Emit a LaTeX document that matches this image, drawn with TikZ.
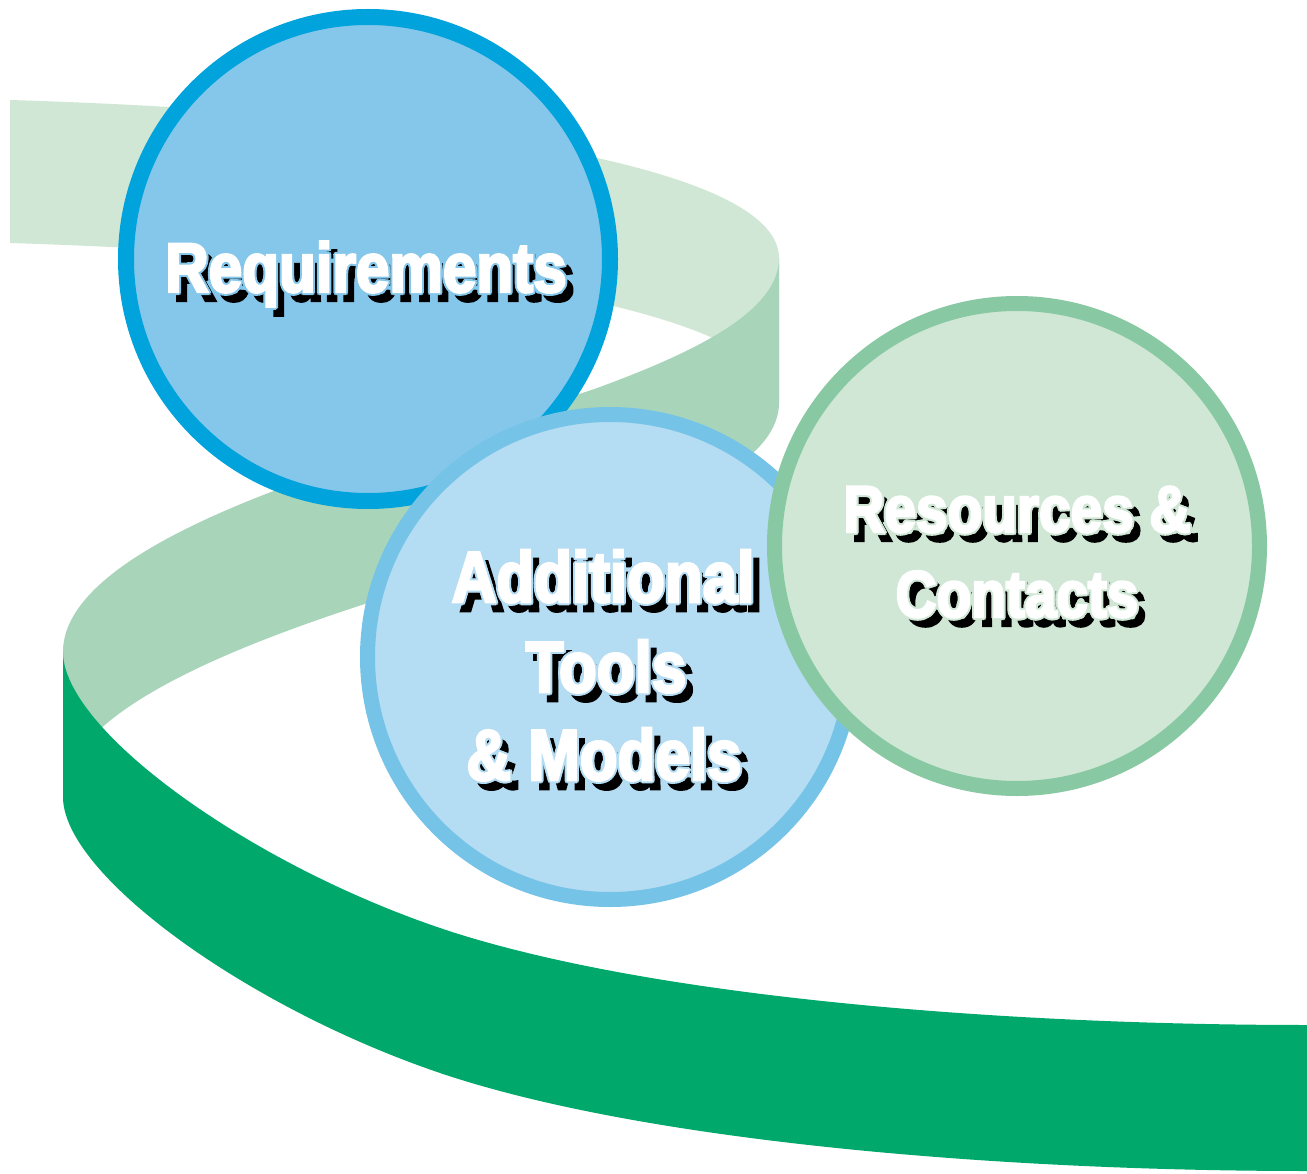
\documentclass[tikz,border=0pt]{standalone}
\usepackage{fontspec}
\setmainfont{Liberation Sans}[FakeStretch=0.86, BoldFeatures={FakeBold=3.5}]
\definecolor{ribA}{HTML}{D0E7D6}
\definecolor{ribB}{HTML}{A8D5BA}
\definecolor{ribC}{HTML}{00A96B}
\definecolor{reqfill}{HTML}{85C7EA}
\definecolor{reqring}{HTML}{00A3DC}
\definecolor{toolfill}{HTML}{B4DCF2}
\definecolor{toolring}{HTML}{76C3E8}
\definecolor{resfill}{HTML}{D0E7D6}
\definecolor{resring}{HTML}{88C9A3}
\tikzset{
  lbl/.style={inner sep=0pt, anchor=base},
  bubble/.style={circle, inner sep=0pt, minimum size=485pt, line width=15pt},
}
\newcommand\shadowlabel[6]{% name, x, y, size, halo colour, text
  \node[lbl, font=\fontsize{#4}{#4}\selectfont\bfseries, text=black] (#1-shadow) at (#2+8,#3+9) {#6};
  \foreach \hx/\hy [count=\hi] in {2/0,-2/0,0/2,0/-2,1.4/1.4,-1.4/1.4,1.4/-1.4,-1.4/-1.4}
    {\node[lbl, font=\fontsize{#4}{#4}\selectfont\bfseries, text=#5] (#1-halo\hi) at (#2+\hx,#3+\hy) {#6};}
  \node[lbl, font=\fontsize{#4}{#4}\selectfont\bfseries, text=white] (#1) at (#2,#3) {#6};
}
\begin{document}
\begin{tikzpicture}[x=1pt, y=-1pt]
\useasboundingbox[fill=white] (0,0) rectangle (1307,1174);
% ribbon: upper front face
\fill[ribA] (10,100) .. controls (400,112) and (779,160) .. (779,258)
  -- (779,403) .. controls (779,305) and (400,255) .. (10,243) -- cycle;
% ribbon: back face
\fill[ribB] (779,258) .. controls (779,310) and (700,350) .. (600,387)
  .. controls (480,430) and (63,520) .. (63,652)
  -- (63,797) .. controls (63,665) and (480,575) .. (600,532)
  .. controls (700,495) and (779,455) .. (779,403) -- cycle;
% ribbon: lower front face
\fill[ribC] (63,652) .. controls (63,730) and (250,865) .. (446,930)
  .. controls (650,997) and (1000,1025) .. (1307,1025)
  -- (1307,1171) .. controls (1000,1171) and (650,1142) .. (446,1075)
  .. controls (250,1010) and (63,875) .. (63,797) -- cycle;
% circles
\node[bubble, minimum size=484pt, line width=16pt, draw=reqring, fill=reqfill] (req) at (368,259) {};
\node[bubble, draw=toolring, fill=toolfill] (tools) at (610,657) {};
\node[bubble, draw=resring, fill=resfill] (res) at (1017,546) {};
% labels
\shadowlabel{reqtext}{366}{292}{70}{reqfill}{Requirements}
\shadowlabel{addtext}{603}{602}{72}{toolfill}{Additional}
\shadowlabel{tooltext}{606}{692}{72}{toolfill}{Tools}
\shadowlabel{modtext}{604}{780}{72}{toolfill}{\& Models}
\shadowlabel{restext}{1017}{532}{66}{resfill}{Resources \&}
\shadowlabel{context}{1017}{617}{66}{resfill}{Contacts}
\end{tikzpicture}
\end{document}
